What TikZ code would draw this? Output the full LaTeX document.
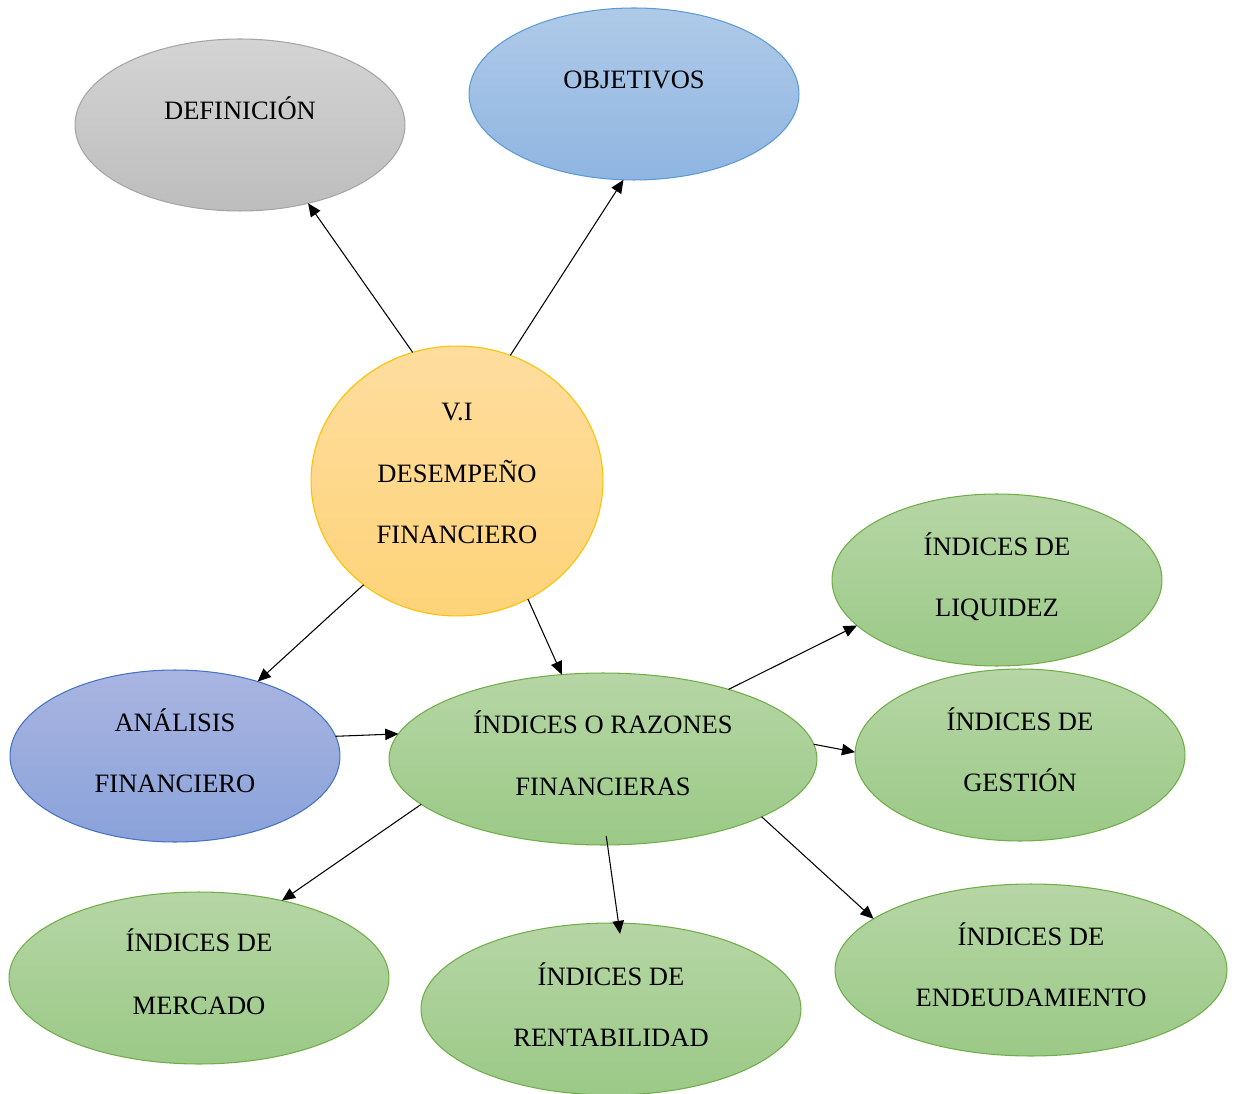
\documentclass[tikz,border=0pt]{standalone}
\usepackage{fontspec}
\setmainfont{Liberation Serif}
\usetikzlibrary{shapes.geometric,arrows.meta}
\definecolor{grayT}{HTML}{D4D4D4}\definecolor{grayB}{HTML}{BDBDBD}\definecolor{grayD}{HTML}{A5A5A5}
\definecolor{bluT}{HTML}{AFCAE8}\definecolor{bluB}{HTML}{8FB5E2}\definecolor{bluD}{HTML}{5B9BD5}
\definecolor{oraT}{HTML}{FEDD9E}\definecolor{oraB}{HTML}{FED379}\definecolor{oraD}{HTML}{FFC000}
\definecolor{purT}{HTML}{A9B5E1}\definecolor{purB}{HTML}{8AA2DA}\definecolor{purD}{HTML}{4472C4}
\definecolor{grnT}{HTML}{B6D6A5}\definecolor{grnB}{HTML}{9BC987}\definecolor{grnD}{HTML}{70AD47}
\tikzset{
  ell/.style={ellipse, inner sep=0pt, outer sep=0pt, line width=0.6pt},
  grayell/.style={ell, draw=grayD, top color=grayT, bottom color=grayB},
  bluell/.style={ell, draw=bluD, top color=bluT, bottom color=bluB},
  oraell/.style={ell, draw=oraD, top color=oraT, bottom color=oraB},
  purell/.style={ell, draw=purD, top color=purT, bottom color=purB},
  grnell/.style={ell, draw=grnD, top color=grnT, bottom color=grnB},
  txt/.style={anchor=base, inner sep=0pt, font=\fontsize{15.1}{18}\selectfont},
  arr/.style={line width=0.6pt, -{Triangle[length=7.5pt,width=6.5pt]}}
}
\begin{document}
\begin{tikzpicture}[x=0.02cm,y=-0.02cm]
\useasboundingbox (0,0) rectangle (1237,1094);
% ellipses
\node[grayell, minimum width=6.6cm, minimum height=3.44cm] (def) at (240,125) {};
\node[bluell, minimum width=6.6cm, minimum height=3.44cm] (obj) at (634,94) {};
\node[oraell, minimum width=5.84cm, minimum height=5.4cm] (vi) at (457,481) {};
\node[purell, minimum width=6.6cm, minimum height=3.44cm] (ana) at (175,756) {};
\node[grnell, minimum width=8.56cm, minimum height=3.44cm] (ior) at (603,759) {};
\node[grnell, minimum width=6.6cm, minimum height=3.44cm] (liq) at (997,580) {};
\node[grnell, minimum width=6.6cm, minimum height=3.44cm] (ges) at (1020,755) {};
\node[grnell, minimum width=7.84cm, minimum height=3.44cm] (end) at (1031,970) {};
\node[grnell, minimum width=7.6cm, minimum height=3.44cm] (mer) at (199,978) {};
\node[grnell, minimum width=7.6cm, minimum height=3.44cm] (ren) at (611,1009) {};
% texts
\node[txt] (defT) at (240,120) {DEFINICIÓN};
\node[txt] (objT) at (634,89) {OBJETIVOS};
\node[txt] (viT1) at (457,421) {V.I};
\node[txt] (viT2) at (457,482) {DESEMPEÑO};
\node[txt] (viT3) at (457,543) {FINANCIERO};
\node[txt] (anaT1) at (175,731) {ANÁLISIS};
\node[txt] (anaT2) at (175,792) {FINANCIERO};
\node[txt] (iorT1) at (603,733) {ÍNDICES O RAZONES};
\node[txt] (iorT2) at (603,795) {FINANCIERAS};
\node[txt] (liqT1) at (997,555) {ÍNDICES DE};
\node[txt] (liqT2) at (997,616) {LIQUIDEZ};
\node[txt] (gesT1) at (1020,730) {ÍNDICES DE};
\node[txt] (gesT2) at (1020,791) {GESTIÓN};
\node[txt] (endT1) at (1031,945) {ÍNDICES DE};
\node[txt] (endT2) at (1031,1006) {ENDEUDAMIENTO};
\node[txt] (merT1) at (199,951) {ÍNDICES DE};
\node[txt] (merT2) at (199,1014) {MERCADO};
\node[txt] (renT1) at (611,985) {ÍNDICES DE};
\node[txt] (renT2) at (611,1046) {RENTABILIDAD};
% connectors
\draw[arr] (vi.109) -- (def.-49);
\draw[arr] (vi.67) -- (obj.-97);
\draw[arr] (vi.-132) -- (ana.42);
\draw[arr] (vi.-59) -- (ior.116);
\draw[arr] (ana.7) -- (ior.173);
\draw[arr] (ior.29) -- (liq.-162);
\draw[arr] (ior.4) -- (ges.179);
\draw[arr] (ior.-20) -- (end.162);
\draw[arr, shorten <=-0.18cm, shorten >=-0.22cm] (ior.-87) -- (ren.85);
\draw[arr] (ior.-166) -- (mer.43);
\end{tikzpicture}
\end{document}
